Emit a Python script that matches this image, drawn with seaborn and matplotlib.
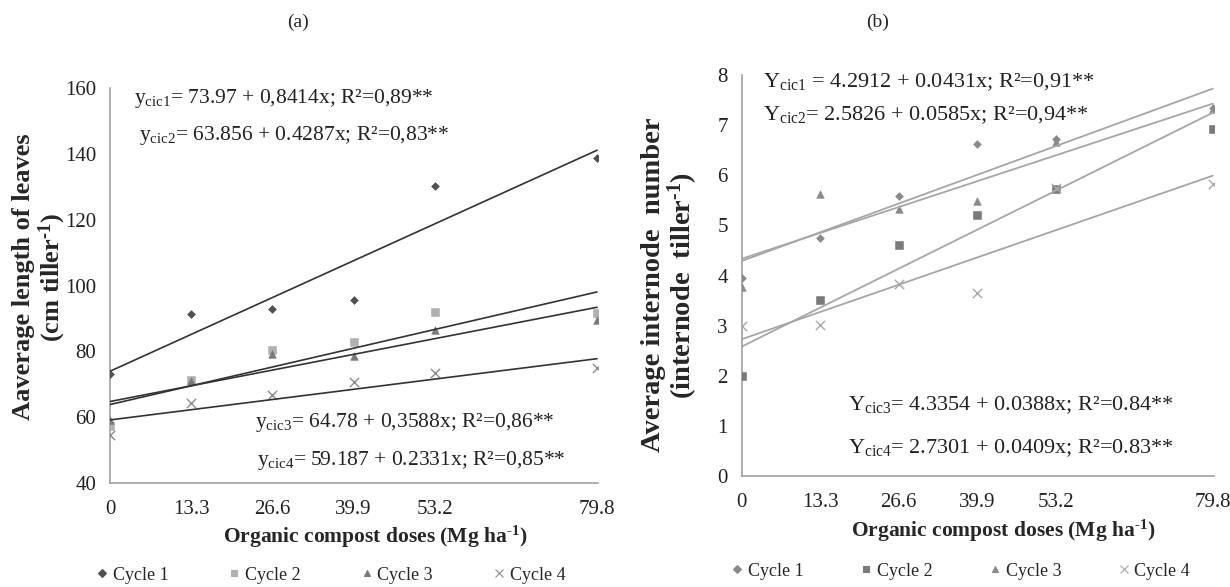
import numpy as np
import pandas as pd
import matplotlib
matplotlib.use("Agg")
import matplotlib.pyplot as plt
from matplotlib.lines import Line2D
import seaborn as sns

# ---------------- data ----------------
doses = [0, 13.3, 26.6, 39.9, 53.2, 79.8]
dose_labels = ["0", "13.3", "26.6", "39.9", "53.2", "79.8"]
cycles = ["Cycle 1", "Cycle 2", "Cycle 3", "Cycle 4"]

# (a) average length of leaves
leaf_c1 = [73.0, 91.4, 92.9, 95.7, 130.3, 138.7]
leaf_c2 = [57.2, 71.4, 80.3, 83.0, 92.1, 91.8]
leaf_c3 = [59.2, 71.0, 79.3, 78.5, 86.6, 89.6]
leaf_c4 = [54.7, 64.3, 66.8, 70.6, 73.4, 74.9]
leaf_intercepts = [73.97, 63.856, 64.78, 59.187]
leaf_slopes = [0.8414, 0.4287, 0.3588, 0.2331]

# (b) average internode number
intn_c1 = [3.95, 4.76, 5.58, 6.62, 6.72, 7.34]
intn_c2 = [2.00, 3.52, 4.61, 5.20, 5.72, 6.93]
intn_c3 = [3.78, 5.62, 5.33, 5.48, 6.67, 7.32]
intn_c4 = [2.99, 3.02, 3.83, 3.65, 5.75, 5.82]
intn_intercepts = [4.2912, 2.5826, 4.3354, 2.7301]
intn_slopes = [0.0431, 0.0585, 0.0388, 0.0409]

eq_a = [r"y$_{\mathregular{cic1}}$= 73.97 + 0,8414x; R²=0,89**",
        r"y$_{\mathregular{cic2}}$= 63.856 + 0.4287x; R²=0,83**",
        r"y$_{\mathregular{cic3}}$= 64.78 + 0,3588x; R²=0,86**",
        r"y$_{\mathregular{cic4}}$= 59.187 + 0.2331x; R²=0,85**"]
eq_b = [r"Y$_{\mathregular{cic1}}$ = 4.2912 + 0.0431x; R²=0,91**",
        r"Y$_{\mathregular{cic2}}$= 2.5826 + 0.0585x; R²=0,94**",
        r"Y$_{\mathregular{cic3}}$= 4.3354 + 0.0388x; R²=0.84**",
        r"Y$_{\mathregular{cic4}}$= 2.7301 + 0.0409x; R²=0.83**"]

# ---------------- style ----------------
sns.set_theme(style="white")
plt.rcParams["font.family"] = ["Liberation Serif", "DejaVu Serif"]
plt.rcParams["mathtext.fontset"] = "custom"
plt.rcParams["mathtext.rm"] = "Liberation Serif"
plt.rcParams["mathtext.it"] = "Liberation Serif:italic"
plt.rcParams["mathtext.bf"] = "Liberation Serif:bold"

markers = {"Cycle 1": "D", "Cycle 2": "s", "Cycle 3": "^", "Cycle 4": "x"}
sizes = {"Cycle 1": 16, "Cycle 2": 34, "Cycle 3": 30, "Cycle 4": 45}
colors_a = {"Cycle 1": "#505050", "Cycle 2": "#b0b0b0", "Cycle 3": "#7a7a7a", "Cycle 4": "#8c8c8c"}
colors_b = {"Cycle 1": "#8a8a8a", "Cycle 2": "#7a7a7a", "Cycle 3": "#8a8a8a", "Cycle 4": "#a8a8a8"}

fig = plt.figure(figsize=(12.3, 5.87), dpi=100)
ax_a = fig.add_axes([0.0894, 0.177, 0.397, 0.673])
ax_b = fig.add_axes([0.603, 0.189, 0.384, 0.683])


def draw_panel(ax, series, intercepts, slopes, colors, line_color, line_w):
    rows = []
    for cyc, vals in zip(cycles, series):
        for d, v in zip(doses, vals):
            rows.append({"dose": d, "value": v, "cycle": cyc})
    df = pd.DataFrame(rows)
    for cyc in cycles:
        sub = df[df["cycle"] == cyc]
        sns.scatterplot(data=sub, x="dose", y="value", ax=ax, marker=markers[cyc],
                        s=sizes[cyc], color=colors[cyc], edgecolor=colors[cyc] if markers[cyc] != "x" else None,
                        linewidth=1.0 if markers[cyc] == "x" else 0.4, zorder=3, legend=False)
    xs = [doses[0], doses[-1]]
    for a, b in zip(intercepts, slopes):
        fit = pd.DataFrame({"dose": xs, "value": [a + b * x for x in xs]})
        sns.lineplot(data=fit, x="dose", y="value", ax=ax, color=line_color, lw=line_w, zorder=4)
    ax.set_xticks(doses)
    ax.set_xticklabels(dose_labels)
    ax.set_xlim(0, 80.0)
    ax.set_xlabel("")
    ax.set_ylabel("")
    for s in ["top", "right"]:
        ax.spines[s].set_visible(False)
    for s in ["left", "bottom"]:
        ax.spines[s].set_color("#a0a0a0")
        ax.spines[s].set_linewidth(1.2)
    ax.tick_params(axis="both", length=0, labelsize=15, colors="#222222")
    ax.tick_params(axis="x", pad=12)
    ax.tick_params(axis="y", pad=10)
    ax.grid(False)


draw_panel(ax_a, [leaf_c1, leaf_c2, leaf_c3, leaf_c4], leaf_intercepts, leaf_slopes,
           colors_a, "#333333", 1.2)
ax_a.set_ylim(40, 160)
ax_a.set_yticks(range(40, 161, 20))

draw_panel(ax_b, [intn_c1, intn_c2, intn_c3, intn_c4], intn_intercepts, intn_slopes,
           colors_b, "#a6a6a6", 1.3)
ax_b.set_ylim(0, 8)
ax_b.set_yticks(range(0, 9))

def fx(px):
    return px / 1230.0
def fy(py):
    return 1 - py / 587.0

# equations
fs_a = 15.5
fs_b = 16
fig.text(fx(134), fy(99), eq_a[0], fontsize=fs_a, va="center", ha="left", color="#222222")
fig.text(fx(139), fy(135), eq_a[1], fontsize=fs_a, va="center", ha="left", color="#222222")
fig.text(fx(255), fy(423), eq_a[2], fontsize=fs_a, va="center", ha="left", color="#222222")
fig.text(fx(257), fy(461), eq_a[3], fontsize=fs_a, va="center", ha="left", color="#222222")

fig.text(fx(763), fy(82), eq_b[0], fontsize=fs_b, va="center", ha="left", color="#222222")
fig.text(fx(763), fy(115), eq_b[1], fontsize=fs_b, va="center", ha="left", color="#222222")
fig.text(fx(848), fy(405), eq_b[2], fontsize=fs_b, va="center", ha="left", color="#222222")
fig.text(fx(848), fy(448), eq_b[3], fontsize=fs_b, va="center", ha="left", color="#222222")

sup = r"$^{\mathregular{\u2010}1}$"
sup = "$^{\\mathregular{\u20101}}$"

# axis titles
fig.text(fx(24), fy(277), "Aaverage length of leaves", rotation=90, fontsize=19,
         fontweight="bold", ha="center", va="center")
fig.text(fx(52), fy(277), "(cm tiller" + sup + ")", rotation=90, fontsize=19,
         fontweight="bold", ha="center", va="center")
fig.text(fx(654), fy(285), "Average internode  number", rotation=90, fontsize=20.5,
         fontweight="bold", ha="center", va="center")
fig.text(fx(683), fy(285), "(internode  tiller" + sup + ")", rotation=90, fontsize=20.5,
         fontweight="bold", ha="center", va="center")

fig.text(fx(375), fy(537), "Organic compost doses (Mg ha" + sup + ")", fontsize=15.5,
         fontweight="bold", ha="center", va="center")
fig.text(fx(1003), fy(531), "Organic compost doses (Mg ha" + sup + ")", fontsize=15.5,
         fontweight="bold", ha="center", va="center")

# panel letters
fig.text(fx(298), fy(22), "(a)", fontsize=14, ha="center", va="center")
fig.text(fx(878), fy(22), "(b)", fontsize=14, ha="center", va="center")

# legends
def make_handles(colors):
    hs = []
    for cyc in cycles:
        m = markers[cyc]
        hs.append(Line2D([], [], linestyle="none", marker=m, color=colors[cyc],
                         markersize=4 if m == "D" else (5 if m != "x" else 6),
                         markeredgewidth=0.8, label=cyc))
    return hs

fig.legend(handles=make_handles(colors_a), loc="center", bbox_to_anchor=(fx(330), fy(575)),
           ncol=4, frameon=False, fontsize=13, handlelength=0.8, handletextpad=0.2,
           columnspacing=3.25)
fig.legend(handles=make_handles(colors_b), loc="center", bbox_to_anchor=(fx(960), fy(571)),
           ncol=4, frameon=False, fontsize=13, handlelength=0.8, handletextpad=0.2,
           columnspacing=3.05)

fig.savefig("out.png", dpi=100)
